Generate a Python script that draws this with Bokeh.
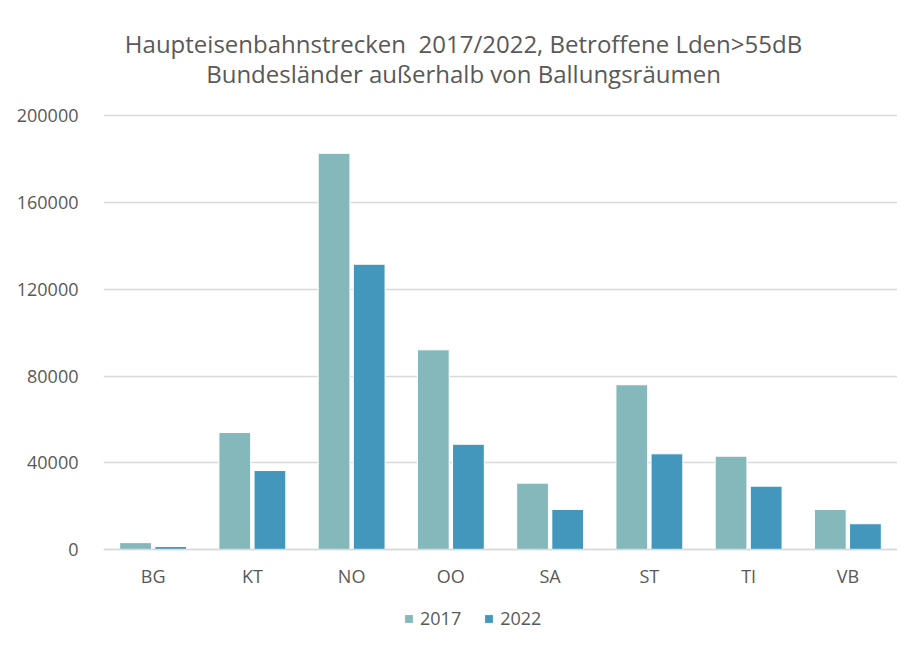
from bokeh.plotting import figure
from bokeh.models import (ColumnDataSource, FixedTicker, Label, Legend, LegendItem, Range1d,
                          NumeralTickFormatter)
from bokeh.transform import dodge
from bokeh.embed import file_html
from bokeh.resources import INLINE

categories = ["BG", "KT", "NO", "OO", "SA", "ST", "TI", "VB"]
values_2017 = [3300, 54000, 182600, 92100, 30700, 76000, 43100, 18550]
values_2022 = [1500, 36500, 131500, 48600, 18550, 44200, 29300, 12000]
y_ticks = [0, 40000, 80000, 120000, 160000, 200000]
title_line1 = "Haupteisenbahnstrecken\u00a0\u00a02017/2022, Betroffene Lden>55dB"
title_line2 = "Bundesländer außerhalb von Ballungsräumen"

FONT = "Open Sans"
TXT = "#595959"
C2017 = "#84b8bb"
C2022 = "#4397bd"

src = ColumnDataSource(dict(cat=categories, v2017=values_2017, v2022=values_2022))

# frame spans the full height: headroom above for the title, room below zero for labels/legend
p = figure(x_range=categories, y_range=Range1d(-40850, 252960),
           width=897, height=638,
           output_backend="svg", toolbar_location=None, title=None,
           min_border_left=103, min_border_right=0, min_border_top=0, min_border_bottom=0)

r1 = p.vbar(x=dodge("cat", -0.177, range=p.x_range), top="v2017", width=0.32, source=src,
            fill_color=C2017, line_color="#ffffff", line_width=1)
r2 = p.vbar(x=dodge("cat", 0.177, range=p.x_range), top="v2022", width=0.32, source=src,
            fill_color=C2022, line_color="#ffffff", line_width=1)

p.outline_line_color = None
p.background_fill_color = "white"
p.border_fill_color = "white"

p.xgrid.grid_line_color = None
p.ygrid.grid_line_color = "#d9d9d9"
p.ygrid.grid_line_width = 1.5
p.ygrid.ticker = FixedTicker(ticks=y_ticks)
p.yaxis.ticker = FixedTicker(ticks=y_ticks)
p.yaxis.formatter = NumeralTickFormatter(format="0")
p.yaxis.axis_line_color = None
p.yaxis.major_tick_line_color = None
p.yaxis.minor_tick_line_color = None
p.yaxis.major_label_text_font = FONT
p.yaxis.major_label_text_font_size = "18px"
p.yaxis.major_label_text_color = TXT
p.yaxis.major_label_standoff = 19

p.xaxis.fixed_location = 0
p.xaxis.axis_line_color = "#d9d9d9"
p.xaxis.axis_line_width = 1.5
p.xaxis.major_tick_line_color = None
p.xaxis.minor_tick_line_color = None
p.xaxis.major_label_text_font = FONT
p.xaxis.major_label_text_font_size = "18px"
p.xaxis.major_label_text_color = TXT
p.xaxis.major_label_standoff = 8

legend = Legend(items=[LegendItem(label="2017", renderers=[r1]),
                       LegendItem(label="2022", renderers=[r2])],
                orientation="horizontal", location=(300, 8),
                label_text_font=FONT, label_text_font_size="18px", label_text_color=TXT,
                glyph_width=11, glyph_height=11, spacing=22, label_standoff=6,
                padding=5, margin=0, border_line_color=None, background_fill_alpha=0)
p.add_layout(legend, "center")

for txt, sy in [(title_line1, 595), (title_line2, 565)]:
    p.add_layout(Label(x=360, y=sy, x_units="screen", y_units="screen", text=txt,
                       text_font=FONT, text_font_size="24px", text_color=TXT,
                       text_align="center", text_baseline="middle"))

open("out.html", "w").write(file_html(p, INLINE))
